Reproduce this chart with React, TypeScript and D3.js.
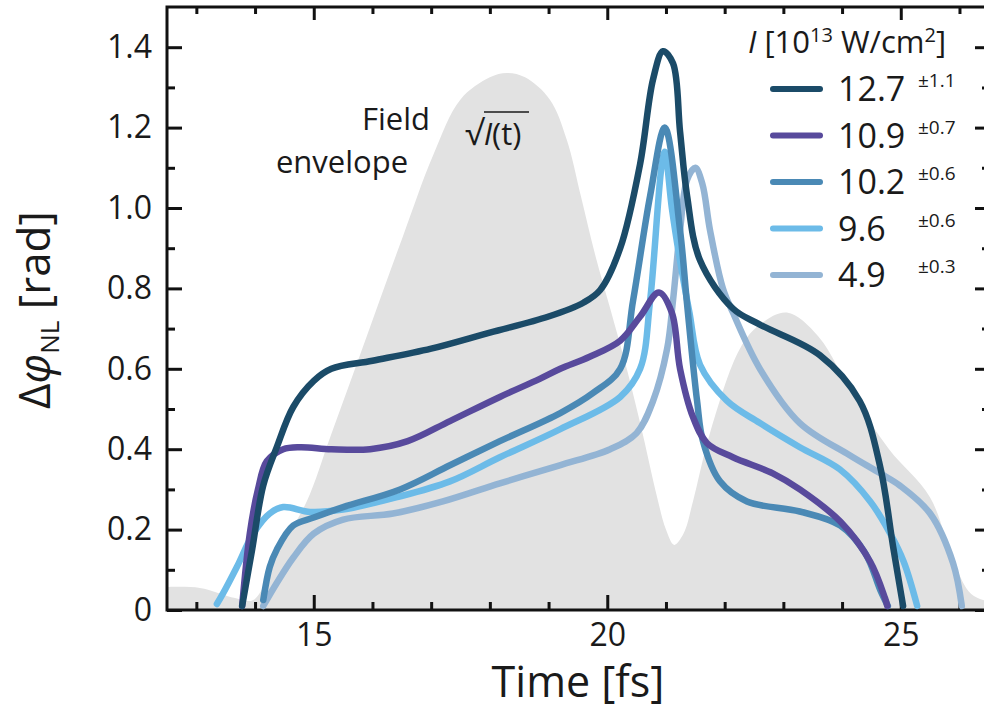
import React, { useRef, useEffect } from "react";
import * as d3 from "d3";

// field envelope sqrt(I(t)) (grey background)
const envT = [12.5, 13.06, 13.66, 13.97, 14.42, 14.88, 15.28, 15.9, 16.52, 17.03, 17.5, 18.0, 18.29, 18.6, 19.02, 19.31, 19.55, 19.8, 20.05, 20.35, 20.6, 20.85, 21.0, 21.14, 21.3, 21.46, 21.75, 22.26, 22.6, 23.06, 23.6, 24.2, 24.8, 25.5, 25.9, 26.2, 26.52];
const envV = [0.057, 0.055, 0.03, 0.025, 0.15, 0.27, 0.43, 0.68, 0.93, 1.13, 1.27, 1.325, 1.336, 1.325, 1.27, 1.17, 1.03, 0.88, 0.75, 0.59, 0.44, 0.28, 0.2, 0.162, 0.19, 0.27, 0.44, 0.65, 0.71, 0.74, 0.68, 0.53, 0.4, 0.28, 0.12, 0.04, 0.02];

// nonlinear phase for each intensity
const t127 = [13.78, 13.95, 14.14, 14.37, 14.65, 15.0, 15.3, 16.0, 17.0, 18.0, 19.0, 19.6, 19.88, 20.22, 20.56, 20.78, 20.95, 21.12, 21.24, 21.36, 21.58, 22.14, 22.6, 23.62, 24.3, 24.65, 24.87, 25.04];
const v127 = [0.01, 0.15, 0.31, 0.405, 0.505, 0.57, 0.6, 0.62, 0.65, 0.69, 0.73, 0.765, 0.796, 0.9, 1.11, 1.32, 1.39, 1.36, 1.19, 1.03, 0.87, 0.75, 0.71, 0.634, 0.52, 0.356, 0.157, 0.01];

const t109 = [13.78, 13.91, 14.05, 14.2, 14.48, 14.77, 15.3, 15.96, 16.6, 17.32, 18.17, 18.85, 19.2, 19.7, 20.22, 20.56, 20.88, 21.1, 21.24, 21.46, 21.7, 22.14, 22.82, 23.28, 23.97, 24.48, 24.73, 24.77];
const v109 = [0.01, 0.19, 0.3, 0.37, 0.4, 0.405, 0.4, 0.4, 0.42, 0.47, 0.53, 0.575, 0.6, 0.63, 0.67, 0.73, 0.79, 0.74, 0.6, 0.48, 0.415, 0.38, 0.34, 0.3, 0.22, 0.12, 0.03, 0.01];

const t102 = [14.14, 14.25, 14.37, 14.65, 15.0, 15.5, 16.47, 17.32, 18.17, 19.2, 19.76, 20.22, 20.44, 20.73, 20.98, 21.24, 21.36, 21.53, 21.63, 21.92, 22.38, 23.28, 23.97, 24.4, 24.65, 24.78];
const v102 = [0.025, 0.107, 0.15, 0.21, 0.23, 0.256, 0.3, 0.36, 0.42, 0.49, 0.54, 0.6, 0.77, 1.03, 1.2, 0.945, 0.76, 0.52, 0.42, 0.32, 0.27, 0.245, 0.21, 0.14, 0.05, 0.01];

const t96 = [13.35, 13.45, 13.69, 13.97, 14.25, 14.48, 14.94, 15.5, 16.4, 17.32, 18.17, 19.2, 20.22, 20.56, 20.73, 20.93, 20.98, 21.1, 21.25, 21.4, 21.58, 22.04, 22.6, 23.28, 23.96, 24.48, 24.82, 25.05, 25.28];
const v96 = [0.015, 0.04, 0.107, 0.19, 0.24, 0.256, 0.244, 0.25, 0.28, 0.32, 0.38, 0.45, 0.53, 0.6, 0.77, 1.11, 1.14, 1.0, 0.86, 0.74, 0.61, 0.52, 0.465, 0.405, 0.35, 0.27, 0.19, 0.12, 0.01];

const t49 = [14.14, 14.37, 14.65, 15.0, 15.5, 16.35, 17.2, 18.17, 19.19, 20.05, 20.5, 20.78, 21.02, 21.12, 21.24, 21.36, 21.5, 21.62, 21.75, 21.97, 22.14, 22.6, 23.28, 24.13, 24.65, 24.98, 25.5, 25.89, 26.04];
const v49 = [0.01, 0.067, 0.13, 0.19, 0.225, 0.24, 0.27, 0.315, 0.36, 0.4, 0.44, 0.52, 0.65, 0.77, 0.945, 1.07, 1.1, 1.06, 0.945, 0.8, 0.74, 0.6, 0.465, 0.385, 0.34, 0.31, 0.24, 0.117, 0.01];

const intensities = ["12.7", "10.9", "10.2", "9.6", "4.9"];
const errors = ["±1.1", "±0.7", "±0.6", "±0.6", "±0.3"];
const colors = ["#1b4b68", "#584a9c", "#4a89b5", "#6cbbe8", "#93b4d4"];
const seriesT = [t127, t109, t102, t96, t49];
const seriesV = [v127, v109, v102, v96, v49];

const yMajor = [0, 0.2, 0.4, 0.6, 0.8, 1.0, 1.2, 1.4];
const yMinor = [0.1, 0.3, 0.5, 0.7, 0.9, 1.1, 1.3];
const xMajor = [15, 20, 25];
const xMinor = [13, 14, 16, 17, 18, 19, 21, 22, 23, 24, 26];

const FONT = "'Open Sans', 'Noto Sans', sans-serif";

const App = () => {
  const svgRef = useRef(null);

  useEffect(() => {
    const svg = d3.select(svgRef.current);
    svg.selectAll("*").remove();

    const left = 167, right = 990, top = 7, bottom = 610;
    const x = d3.scaleLinear().domain([12.5, 26.52]).range([left, right]);
    const y = d3.scaleLinear().domain([0, 1.5]).range([bottom, top]);

    // envelope
    const area = d3.area()
      .x((d) => x(d[0]))
      .y0(y(0))
      .y1((d) => y(d[1]))
      .curve(d3.curveCatmullRom.alpha(0.5));
    svg.append("path")
      .datum(envT.map((t, i) => [t, envV[i]]))
      .attr("d", area)
      .attr("fill", "#e2e2e2");

    // axes
    const styleAxis = (g) => {
      g.select(".domain").remove();
      g.selectAll("line").attr("stroke", "#111").attr("stroke-width", 3);
      g.selectAll("text")
        .attr("font-family", FONT)
        .attr("font-size", 32)
        .attr("fill", "#1a1a1a");
    };

    svg.append("g")
      .attr("transform", `translate(0,${bottom})`)
      .call(d3.axisBottom(x).tickValues(xMajor).tickSizeInner(-15).tickSizeOuter(0).tickPadding(13).tickFormat(d3.format("d")))
      .call(styleAxis);
    svg.append("g")
      .attr("transform", `translate(0,${bottom})`)
      .call(d3.axisBottom(x).tickValues(xMinor).tickSizeInner(-8).tickSizeOuter(0).tickFormat(() => ""))
      .call(styleAxis);
    svg.append("g")
      .attr("transform", `translate(0,${top})`)
      .call(d3.axisTop(x).tickValues(xMajor).tickSizeInner(-13).tickSizeOuter(0).tickFormat(() => ""))
      .call(styleAxis);
    svg.append("g")
      .attr("transform", `translate(0,${top})`)
      .call(d3.axisTop(x).tickValues(xMinor).tickSizeInner(-7).tickSizeOuter(0).tickFormat(() => ""))
      .call(styleAxis);

    svg.append("g")
      .attr("transform", `translate(${left},0)`)
      .call(d3.axisLeft(y).tickValues(yMajor).tickSizeInner(-15).tickSizeOuter(0).tickPadding(15)
        .tickFormat((d) => (d === 0 ? "0" : d3.format(".1f")(d))))
      .call(styleAxis);
    svg.append("g")
      .attr("transform", `translate(${left},0)`)
      .call(d3.axisLeft(y).tickValues(yMinor).tickSizeInner(-8).tickSizeOuter(0).tickFormat(() => ""))
      .call(styleAxis);
    svg.append("g")
      .attr("transform", `translate(${right},0)`)
      .call(d3.axisRight(y).tickValues(yMajor).tickSizeInner(-15).tickSizeOuter(0).tickFormat(() => ""))
      .call(styleAxis);
    svg.append("g")
      .attr("transform", `translate(${right},0)`)
      .call(d3.axisRight(y).tickValues(yMinor).tickSizeInner(-8).tickSizeOuter(0).tickFormat(() => ""))
      .call(styleAxis);

    // frame
    svg.append("rect")
      .attr("x", left).attr("y", top)
      .attr("width", right - left).attr("height", bottom - top)
      .attr("fill", "none").attr("stroke", "#111").attr("stroke-width", 3);

    // curves
    const line = d3.line()
      .x((d) => x(d[0]))
      .y((d) => y(d[1]))
      .curve(d3.curveCatmullRom.alpha(0.5));
    const order = [4, 3, 2, 1, 0];
    order.forEach((k) => {
      svg.append("path")
        .datum(seriesT[k].map((t, i) => [t, seriesV[k][i]]))
        .attr("d", line)
        .attr("fill", "none")
        .attr("stroke", colors[k])
        .attr("stroke-width", 6.5)
        .attr("stroke-linecap", "round")
        .attr("stroke-linejoin", "round");
    });

    // axis titles
    svg.append("text")
      .attr("x", 578).attr("y", 697)
      .attr("text-anchor", "middle")
      .attr("font-family", FONT).attr("font-size", 43).attr("fill", "#1a1a1a")
      .text("Time [fs]");

    const yt = svg.append("text")
      .attr("transform", "translate(50,310) rotate(-90)")
      .attr("text-anchor", "middle")
      .attr("font-family", FONT).attr("font-size", 44).attr("fill", "#1a1a1a");
    yt.append("tspan").text("Δ");
    yt.append("tspan").attr("font-style", "italic").text("φ");
    yt.append("tspan").attr("font-size", 26).attr("dy", 9).text("NL");
    yt.append("tspan").attr("dy", -9).text(" [rad]");

    // envelope label
    svg.append("text")
      .attr("x", 430).attr("y", 130).attr("text-anchor", "end")
      .attr("font-family", FONT).attr("font-size", 31).attr("fill", "#1a1a1a")
      .text("Field");
    svg.append("text")
      .attr("x", 342).attr("y", 173).attr("text-anchor", "middle")
      .attr("font-family", FONT).attr("font-size", 31).attr("fill", "#1a1a1a")
      .text("envelope");
    const sq = svg.append("text")
      .attr("x", 465).attr("y", 145)
      .attr("font-family", FONT).attr("font-size", 31).attr("fill", "#1a1a1a");
    sq.append("tspan").attr("font-size", 34).text("√");
    sq.append("tspan").attr("font-style", "italic").text("I");
    sq.append("tspan").text("(t)");
    svg.append("line")
      .attr("x1", 484).attr("x2", 529).attr("y1", 112).attr("y2", 112)
      .attr("stroke", "#1a1a1a").attr("stroke-width", 1.6);

    // legend
    const head = svg.append("text")
      .attr("x", 748).attr("y", 53)
      .attr("font-family", FONT).attr("font-size", 31).attr("fill", "#1a1a1a");
    head.append("tspan").attr("font-style", "italic").text("I");
    head.append("tspan").text(" [10");
    head.append("tspan").attr("font-size", 20).attr("dy", -11).text("13");
    head.append("tspan").attr("dy", 11).text(" W/cm");
    head.append("tspan").attr("font-size", 20).attr("dy", -11).text("2");
    head.append("tspan").attr("dy", 11).text("]");

    const leg = svg.append("g");
    intensities.forEach((lab, i) => {
      const ly = 89 + i * 46.5;
      leg.append("line")
        .attr("x1", 773).attr("x2", 820).attr("y1", ly).attr("y2", ly)
        .attr("stroke", colors[i]).attr("stroke-width", 6).attr("stroke-linecap", "round");
      leg.append("text")
        .attr("x", 838).attr("y", ly + 12)
        .attr("font-family", FONT).attr("font-size", 34).attr("fill", "#1a1a1a")
        .text(lab);
      leg.append("text")
        .attr("x", 918).attr("y", ly - 2)
        .attr("font-family", FONT).attr("font-size", 19).attr("fill", "#1a1a1a")
        .text(errors[i]);
    });
  }, []);

  return (
    <svg
      ref={svgRef}
      width={984}
      height={710}
      style={{ position: "absolute", left: 0, top: 0, background: "#fff" }}
    />
  );
};

export default App;
